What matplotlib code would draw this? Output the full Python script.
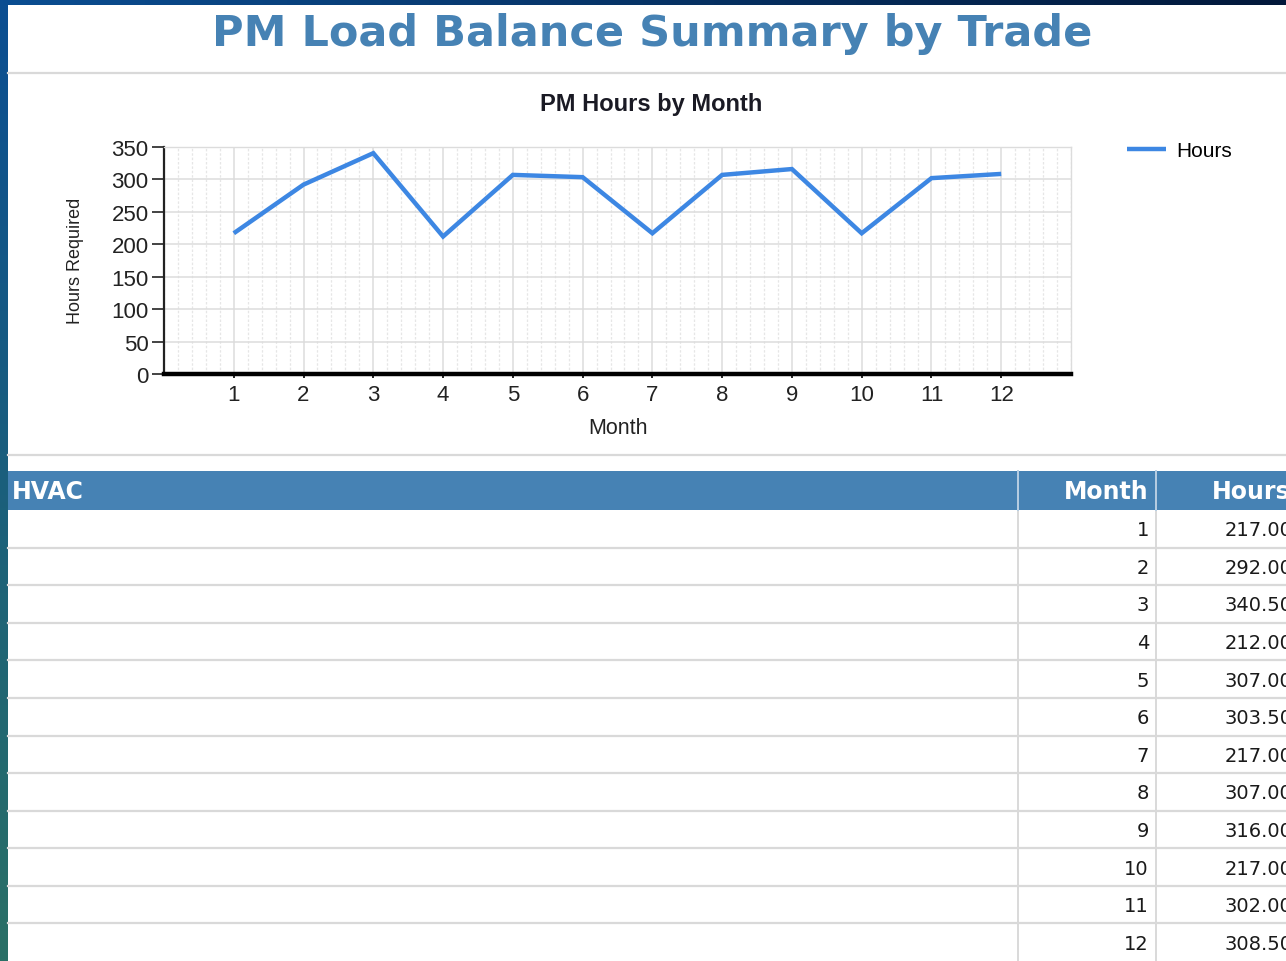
"""Recreate the PM load balance report page: monthly hours line chart plus HVAC table."""

import matplotlib

matplotlib.use("Agg")

import matplotlib.pyplot as plt
import numpy as np
from matplotlib.patches import Rectangle
from matplotlib.ticker import MultipleLocator

W, H = 1286, 962

PAGE_TITLE = "PM Load Balance Summary by Trade"
CHART_TITLE = "PM Hours by Month"
TRADE = "HVAC"
SERIES_NAME = "Hours"
MONTHS = [1, 2, 3, 4, 5, 6, 7, 8, 9, 10, 11, 12]
HOURS = [217.0, 292.0, 340.5, 212.0, 307.0, 303.5, 217.0, 307.0, 316.0, 217.0, 302.0, 308.5]
Y_TICKS = [0, 50, 100, 150, 200, 250, 300, 350]

STEEL = "#4682b4"
LINE_BLUE = "#3d87e3"
GRID = "#dcdcdc"
RULE = "#d9d9d9"


def _px(x, y):
    """Pixel (top-left origin) to figure fraction."""
    return x / W, 1 - y / H


def _draw_page(fig):
    """Page chrome: gradient border, white panel, rules and the table."""

    bg = fig.add_axes([0, 0, 1, 1], zorder=0)
    bg.set_axis_off()

    top_blue = np.array([11, 78, 146]) / 255
    bottom_teal = np.array([42, 112, 102]) / 255
    navy = np.array([2, 24, 58]) / 255
    t = np.linspace(0, 1, 256)
    left = (top_blue[None, :] * (1 - t[:, None]) + bottom_teal[None, :] * t[:, None])[:, None, :]
    top = (top_blue[None, :] * (1 - t[:, None]) + navy[None, :] * t[:, None])[None, :, :]
    bg.imshow(left, extent=(0, 8, H, 0), aspect="auto", interpolation="bilinear")
    bg.imshow(top, extent=(0, W, 6, 0), aspect="auto", interpolation="bilinear")
    bg.set_xlim(0, W)
    bg.set_ylim(H, 0)

    # horizontal rules around the chart section
    bg.plot([8, W], [74, 74], color=RULE, lw=1.6)
    bg.plot([8, W], [456, 456], color=RULE, lw=1.6)

    # table header
    head_top, head_bot = 472, 511
    yh = (head_top + head_bot) / 2 + 1
    bg.add_patch(Rectangle((8, head_top), W - 8, head_bot - head_top, color=STEEL, lw=0))
    head_kw = dict(color="white", fontsize=17, fontweight="bold", family="DejaVu Sans", va="center")
    bg.text(12, yh, TRADE, ha="left", **head_kw)
    bg.text(1148, yh, "Month", ha="right", **head_kw)
    bg.text(1291, yh, SERIES_NAME, ha="right", **head_kw)

    row_h = (H - head_bot) / len(MONTHS)
    cell_kw = dict(fontsize=14, family="DejaVu Sans", color="#1a1a1a", va="center", ha="right")
    for i, (m, h) in enumerate(zip(MONTHS, HOURS)):
        y0 = head_bot + i * row_h
        yc = y0 + row_h / 2 + 1
        if i > 0:
            bg.plot([8, W], [y0, y0], color=RULE, lw=1.6)
        bg.text(1149, yc, f"{m}", **cell_kw)
        bg.text(1292, yc, f"{h:.2f}", **cell_kw)

    for x in (1018, 1156):
        bg.plot([x, x], [head_bot, H], color=RULE, lw=1.4)
        bg.plot([x, x], [head_top, head_bot], color="#b9cfe3", lw=1.4)


def _plot_hours(fig):
    """Line chart of PM hours by month."""

    x0, y0 = _px(164, 375)
    x1, y1 = _px(1071, 148)
    ax = fig.add_axes([x0, y0, x1 - x0, y1 - y0], zorder=2)
    ax.patch.set_alpha(0)

    ax.plot(MONTHS, HOURS, color=LINE_BLUE, lw=3.2, label=SERIES_NAME,
            solid_capstyle="butt", solid_joinstyle="miter", zorder=3)

    ax.set_xlim(0, len(MONTHS) + 1)
    ax.set_ylim(Y_TICKS[0], Y_TICKS[-1])
    ax.set_xticks(MONTHS)
    ax.set_yticks(Y_TICKS)
    ax.xaxis.set_minor_locator(MultipleLocator(0.2))

    ax.grid(which="major", color=GRID, lw=1.1, zorder=0)
    ax.grid(which="minor", axis="x", color="#e6e6e6", lw=0.9, ls=(0, (2, 1.5)), zorder=0)
    ax.set_axisbelow(True)

    for side in ("top", "right"):
        ax.spines[side].set_color(GRID)
        ax.spines[side].set_linewidth(1.0)
    ax.spines["left"].set_color("#222222")
    ax.spines["left"].set_linewidth(1.6)
    ax.spines["bottom"].set_color("black")
    ax.spines["bottom"].set_linewidth(3.2)

    ax.tick_params(axis="y", which="major", length=9, width=1.2, color="#222222",
                   labelsize=16, labelcolor="#222222", pad=2)
    ax.tick_params(axis="x", which="major", length=3, width=1.2, color="black",
                   labelsize=16, labelcolor="#222222", pad=4)
    ax.tick_params(which="minor", length=0)
    for lab in ax.get_xticklabels() + ax.get_yticklabels():
        lab.set_family("Liberation Sans")

    fig.text(*_px(651, 104), CHART_TITLE, ha="center", va="center", fontsize=17,
             fontweight="bold", family="Liberation Sans", color="#1a1a24")
    fig.text(*_px(618, 428), "Month", ha="center", va="center", fontsize=15.5,
             family="Liberation Sans", color="#222222")
    fig.text(*_px(76, 261), "Hours Required", ha="center", va="center", rotation=90,
             fontsize=13, family="Liberation Sans", color="#222222")

    lx, ly = _px(1127, 142)
    ax.legend(loc="upper left", bbox_to_anchor=(lx, ly), bbox_transform=fig.transFigure,
              frameon=False, borderpad=0, borderaxespad=0, handlelength=1.85,
              handletextpad=0.5, prop={"family": "Liberation Sans", "size": 15})
    return ax


def main():
    fig = plt.figure(figsize=(W / 100, H / 100), dpi=100, facecolor="white")
    _draw_page(fig)
    _plot_hours(fig)
    fig.text(*_px(652, 34), PAGE_TITLE, ha="center", va="center", fontsize=31,
             fontweight="bold", family="DejaVu Sans", color=STEEL)
    fig.savefig("out.png", dpi=100, facecolor="white")


if __name__ == "__main__":
    main()
